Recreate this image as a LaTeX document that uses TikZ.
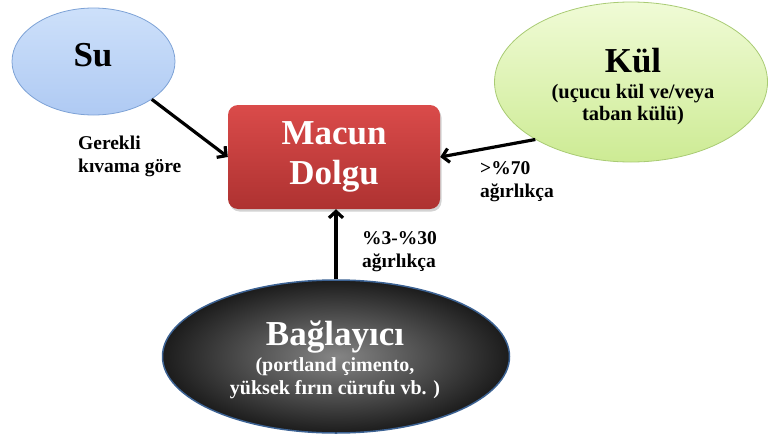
\documentclass[tikz,border=0pt]{standalone}
\usepackage{fontspec}
\setmainfont{Liberation Serif}
\usetikzlibrary{shapes.geometric,arrows.meta,shadows}
\definecolor{sutop}{HTML}{CDE0FA}
\definecolor{subot}{HTML}{AFCAF3}
\definecolor{suline}{HTML}{7DA2D6}
\definecolor{kultop}{HTML}{F0FBD6}
\definecolor{kulbot}{HTML}{CDEB94}
\definecolor{kulline}{HTML}{A9CB74}
\definecolor{mctop}{HTML}{DA4B4A}
\definecolor{mcbot}{HTML}{AE3231}
\definecolor{bagin}{HTML}{858585}
\definecolor{bagout}{HTML}{1C1C1C}
\definecolor{bagline}{HTML}{3C6293}
\begin{document}
\begin{tikzpicture}[x=1pt,y=-1pt,
  blob/.style={ellipse, inner sep=0pt},
  conn/.style={line width=3.2pt, -{Straight Barb[length=6.5pt,width=14pt]}},
  lbl/.style={font=\bfseries\fontsize{19.5}{23}\selectfont, align=left, inner sep=0pt, anchor=north west},
  bigtxt/.style={font=\bfseries\fontsize{35}{40}\selectfont, inner sep=0pt, align=center}]
\useasboundingbox (0,0) rectangle (768,439);
% Su
\node[blob, minimum width=163pt, minimum height=107pt, top color=sutop, bottom color=subot, draw=suline, line width=0.8pt] (su) at (93.5,61.5) {};
\node[bigtxt, anchor=base] (sutxt) at (93,66) {Su};
% Kul
\node[blob, minimum width=273pt, minimum height=160pt, top color=kultop, bottom color=kulbot, draw=kulline, line width=0.8pt] (kul) at (631,82) {};
\node[inner sep=0pt, align=center, anchor=north, font=\bfseries\fontsize{20.5}{22}\selectfont] (kultxt) at (633,48)
  {{\fontsize{35}{35}\selectfont Kül}\\[4pt] (uçucu kül ve/veya\\ taban külü)};
% Macun Dolgu
\node[bigtxt, rounded corners=10pt, minimum width=212pt, minimum height=104pt, top color=mctop, bottom color=mcbot, text=white, drop shadow={shadow xshift=1.5pt, shadow yshift=-2.5pt, opacity=0.35}] (mc) at (334,157) {Macun\\Dolgu};
% Baglayici
\node[blob, minimum width=347pt, minimum height=153pt, inner color=bagin, outer color=bagout, draw=bagline, line width=1.5pt] (bag) at (336,356.5) {};
\node[inner sep=0pt, align=center, anchor=north, text=white, font=\bfseries\fontsize{20}{23.5}\selectfont] (bagtxt) at (335,321)
  {{\fontsize{35}{35}\selectfont Bağlayıcı}\\[2pt] (portland çimento,\\ yüksek fırın cürufu vb. )};
% connectors
\draw[conn] (su.-33) -- (mc.west);
\draw[conn] (kul.211) -- (mc.east);
\draw[conn] (bag.north) -- (bag.north |- mc.south);
% labels
\node[lbl] (l1) at (78,136) {Gerekli\\kıvama göre};
\node[lbl] (l2) at (480,161) {>\%70\\ağırlıkça};
\node[lbl] (l3) at (362,231) {\%3-\%30\\ağırlıkça};
\end{tikzpicture}
\end{document}
